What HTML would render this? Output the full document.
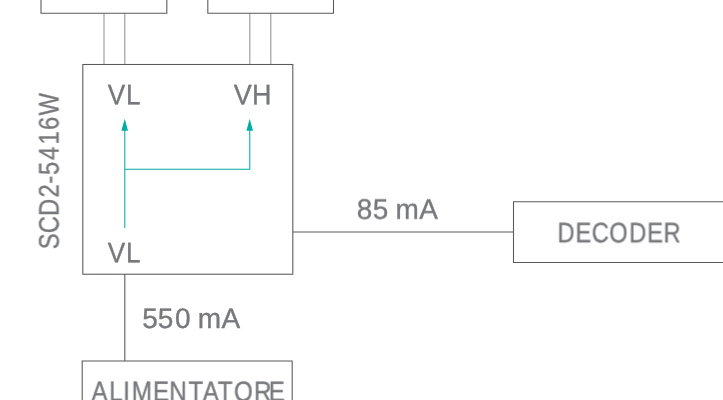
<!DOCTYPE html>
<html lang="it">
<head>
<meta charset="utf-8">
<title>SCD2-5416W</title>
<style>
html,body{margin:0;padding:0;background:#fff;overflow:hidden}
svg{display:block}
text{text-rendering:geometricPrecision;font-family:"Liberation Sans",sans-serif;fill:#77787b;stroke:#77787b;stroke-width:0.35;vector-effect:non-scaling-stroke}
.b{fill:none;stroke:#58595b;stroke-width:1.07}
.c{fill:none;stroke:#939598;stroke-width:1.07}
.t{fill:none;stroke:#00aca4;stroke-width:1.05}
.a{fill:#00aca4}
</style>
</head>
<body>
<svg width="723" height="400" viewBox="0 0 723 400">
<rect width="723" height="400" fill="#fff"/>
<!-- connectors -->
<path class="c" d="M104 13.2V64.5M124.81 13.2V64.5M249.81 13.2V64.5M270.81 13.2V64.5"/>
<!-- top boxes -->
<path class="b" d="M41 -2V13.22H166.81V-2"/>
<path class="b" d="M207.81 -2V13.22H333.5V-2"/>
<!-- main box -->
<rect class="b" x="82.81" y="64.5" width="210" height="209.72"/>
<!-- bottom connector -->
<path class="b" d="M124.81 274.2V361"/>
<!-- right connector -->
<path class="b" d="M292.8 232H513.5"/>
<!-- alimentatore box -->
<path class="b" d="M82.19 402V361H292.19V402"/>
<!-- decoder box -->
<path class="b" d="M725 201.81H513.5V262.5H725"/>
<!-- teal -->
<path class="t" d="M124.78 228V128M124.78 169.2H249.78V128"/>
<path class="a" d="M124.7 118.8L121.4 130.8H128Z"/>
<path class="a" d="M249.7 118.8L246.4 130.8H253Z"/>
<!-- text -->
<g opacity="0.999">
<text id="vl1" transform="translate(107.75 104.25) rotate(0.04) scale(0.9282 1)" x="0 19.65" font-size="28.2">VL</text>
<text id="vh" transform="translate(233.8 104.25) rotate(0.04) scale(0.9567 1)" x="0 19.06" font-size="28.2">VH</text>
<text id="vl2" transform="translate(107.75 262.25) rotate(0.04) scale(0.9282 1)" x="0 19.65" font-size="28.2">VL</text>
<text id="ma85" transform="translate(357 218.75) rotate(0.04) scale(0.9923 1)" x="-0.28 15.97 31.28 38.74 62.80" font-size="28.2">85 mA</text>
<text id="ma550" transform="translate(143 328.0) rotate(0.04) scale(0.9923 1)" x="-0.73 14.96 32.32 47.67 55.16 79.03" font-size="28.2">550 mA</text>
<text id="dec" transform="translate(559 242.25) rotate(0.04) scale(0.8396 1)" x="-1.85 19.70 39.01 59.90 83.78 104.98 124.55" font-size="28.2">DECODER</text>
<text id="ali" transform="translate(90.7 401.0) rotate(0.04) scale(0.8600 1)" x="0.83 21.44 37.77 47.73 72.34 91.27 113.66 130.25 147.79 166.66 189.73 207.08" font-size="28.2">ALIMENTATORE</text>
<text id="scd" transform="translate(58.6 248.3) rotate(-90.04) scale(0.8447 1)" x="-1.11 17.81 38.35 60.17 76.46 86.77 104.47 122.95 140.10 157.33" font-size="28.2">SCD2-5416W</text>
</g>
</svg>
</body>
</html>
